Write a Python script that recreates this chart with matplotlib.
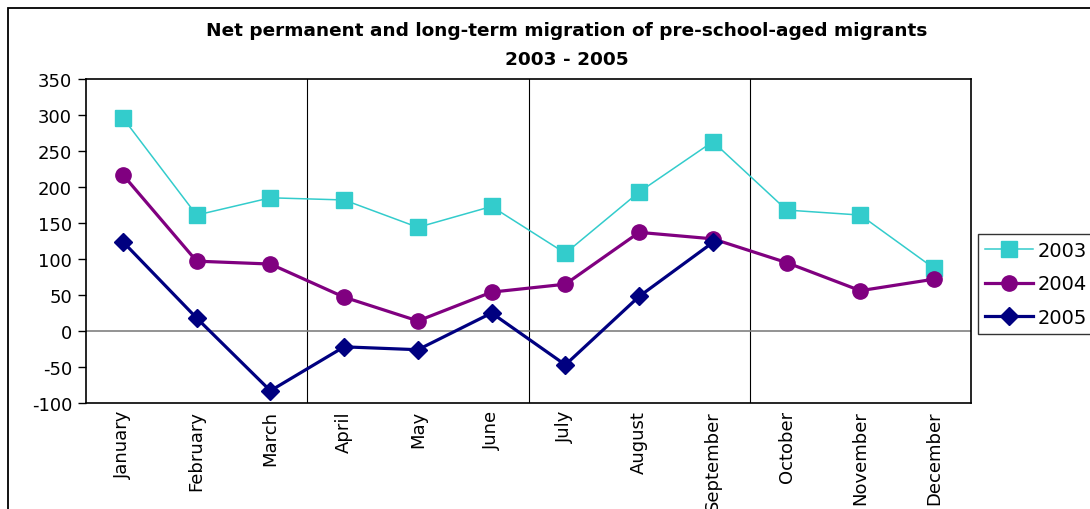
import numpy as np
import matplotlib.pyplot as plt
from matplotlib.patches import Rectangle

months = ['January', 'February', 'March', 'April', 'May', 'June', 'July',
          'August', 'September', 'October', 'November', 'December']
y2003 = [296, 161, 185, 182, 144, 173, 108, 193, 263, 168, 161, 87]
y2004 = [217, 97, 93, 47, 14, 54, 65, 137, 128, 95, 56, 72]
y2005 = [124, 18, -83, -22, -26, 25, -47, 48, 123]
yticks = [-100, -50, 0, 50, 100, 150, 200, 250, 300, 350]

plt.rcParams['font.family'] = ['DejaVu Sans']
plt.rcParams['axes.unicode_minus'] = False
fig = plt.figure(figsize=(10.9, 5.1), dpi=100)
ax = fig.add_axes([86/1090, 1-404/510, (971-86)/1090, 324/510])

x = np.arange(len(months))
ax.plot(x, y2003, color='#33CCCC', lw=1.1, marker='s', ms=11, label='2003')
ax.plot(x, y2004, color='#800080', lw=2.3, marker='o', ms=11, label='2004')
ax.plot(x[:len(y2005)], y2005, color='#000080', lw=2.3, marker='D', ms=9.5, label='2005')

ax.set_xlim(-0.5, 11.5)
ax.set_ylim(-100, 350)
ax.set_yticks(yticks)
ax.tick_params(axis='y', labelsize=13, length=6, direction='out', width=1, pad=4)
ax.set_xticks(x)
ax.set_xticklabels(months, rotation=90, fontsize=13)
ax.tick_params(axis='x', length=0, pad=5)

# quarter separators and zero line
for b in [2.5, 5.5, 8.5]:
    ax.axvline(b, color='black', lw=0.8, zorder=0)
ax.axhline(0, color='#808080', lw=1.2, zorder=0)
for s in ax.spines.values():
    s.set_linewidth(1.2)

fig.text(567/1090, 1-31/510, 'Net permanent and long-term migration of pre-school-aged migrants',
         ha='center', va='center', fontsize=13.3, fontweight='bold')
fig.text(567/1090, 1-60/510, '2003 - 2005', ha='center', va='center',
         fontsize=13.3, fontweight='bold')

# chart area border
fig.patches.append(Rectangle((8/1090, -0.05), 1.1, 1.05-9/510, transform=fig.transFigure,
                             fill=False, edgecolor='black', lw=1.3, clip_on=False))

leg = fig.legend(loc='upper left', bbox_to_anchor=(978/1090, 1-235/510), fontsize=14,
                 frameon=True, fancybox=False, edgecolor='black', handlelength=2.5,
                 borderpad=0.35, labelspacing=0.75, handletextpad=0.2, borderaxespad=0)
leg.get_frame().set_linewidth(1.0)

plt.savefig('out.png', dpi=100)
